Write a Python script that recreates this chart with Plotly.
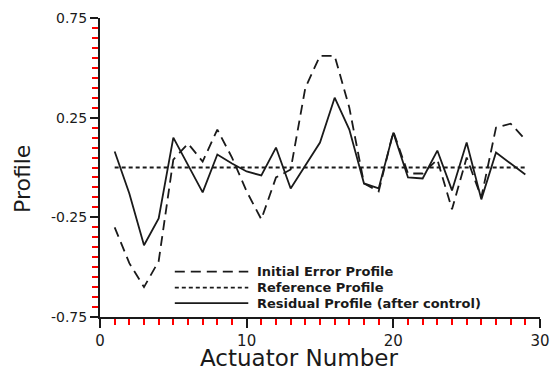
import plotly.graph_objects as go

actuators = list(range(1, 30))

initial_error = [-0.30, -0.48, -0.60, -0.47, 0.04, 0.12, 0.03, 0.19, 0.05, -0.12,
                 -0.26, -0.05, -0.01, 0.40, 0.56, 0.56, 0.30, -0.08, -0.12, 0.18,
                 -0.03, -0.03, 0.04, -0.21, 0.05, -0.15, 0.20, 0.22, 0.14]

reference = [0.0, 0.0, 0.0, 0.0, 0.0, 0.0, 0.0, 0.0, 0.0, 0.0,
             0.0, 0.0, 0.0, 0.0, 0.0, 0.0, 0.0, 0.0, 0.0, 0.0,
             0.0, 0.0, 0.0, 0.0, 0.0, 0.0, 0.0, 0.0, 0.0]

residual = [0.08, -0.13, -0.39, -0.255, 0.15, 0.01, -0.125, 0.065, 0.02, -0.02,
            -0.04, 0.10, -0.105, 0.01, 0.125, 0.35, 0.19, -0.08, -0.105, 0.175,
            -0.05, -0.055, 0.085, -0.115, 0.125, -0.16, 0.075, 0.02, -0.035]

legend_names = ["Initial Error Profile", "Reference Profile",
                "Residual Profile (after control)"]

x_major = [0, 10, 20, 30]
y_major = [-0.75, -0.25, 0.25, 0.75]

INK = "#1a1a1a"
DASH_LONG = "10px,6px"
DASH_SHORT = "4px,3px"
styles = [dict(dash=DASH_LONG, width=1.8), dict(dash=DASH_SHORT, width=1.8),
          dict(dash="solid", width=1.8)]

fig = go.Figure()
for name, ys, st in zip(legend_names, [initial_error, reference, residual], styles):
    fig.add_trace(go.Scatter(x=actuators, y=ys, mode="lines", name=name,
                             line=dict(color=INK, **st), showlegend=False))

# custom legend (long sample lines like the original)
leg_y = [0.152, 0.098, 0.0465]
for name, st, yy in zip(legend_names, styles, leg_y):
    fig.add_shape(type="line", xref="paper", yref="paper", x0=0.170, x1=0.337,
                  y0=yy, y1=yy, line=dict(color=INK, dash=st["dash"], width=1.8))
    fig.add_annotation(xref="paper", yref="paper", x=0.352, y=yy, text="<b>%s</b>" % name,
                       showarrow=False, xanchor="left", yanchor="middle",
                       font=dict(family="DejaVu Sans", size=13, color=INK))

# axis titles
fig.add_annotation(xref="paper", yref="paper", x=(304 - 100) / 450, y=-(358 - 316.7) / 301,
                   text="Actuator Number", showarrow=False, xanchor="center", yanchor="middle",
                   font=dict(family="DejaVu Sans", size=23, color=INK))
fig.add_annotation(xref="paper", yref="paper", x=-(100 - 20) / 450, y=(316.7 - 178) / 301,
                   text="Profile", showarrow=False, textangle=-90, xanchor="center",
                   yanchor="middle", font=dict(family="DejaVu Sans", size=22, color=INK))

fig.update_layout(
    width=560, height=375,
    margin=dict(l=100, r=10, t=16, b=58),
    paper_bgcolor="white", plot_bgcolor="white",
    font=dict(family="DejaVu Sans", color=INK),
    xaxis=dict(range=[0, 30], tickmode="array", tickvals=x_major,
               ticks="outside", ticklen=9, tickwidth=2, tickcolor=INK,
               showline=True, linewidth=2, linecolor=INK,
               tickfont=dict(size=15, color=INK),
               minor=dict(ticks="outside", tickmode="linear", tick0=0, dtick=1,
                          ticklen=6, tickwidth=2, tickcolor="red")),
    yaxis=dict(range=[-0.75, 0.75], tickmode="array", tickvals=y_major,
               ticktext=["-0.75", "-0.25", "0.25", "0.75"],
               ticks="outside", ticklen=8, tickwidth=2, tickcolor=INK,
               showline=True, linewidth=2, linecolor=INK,
               tickfont=dict(size=14, color=INK),
               minor=dict(ticks="outside", tickmode="linear", tick0=-0.75, dtick=0.05,
                          ticklen=6, tickwidth=2, tickcolor="red")),
)

fig.write_html("out.html")
